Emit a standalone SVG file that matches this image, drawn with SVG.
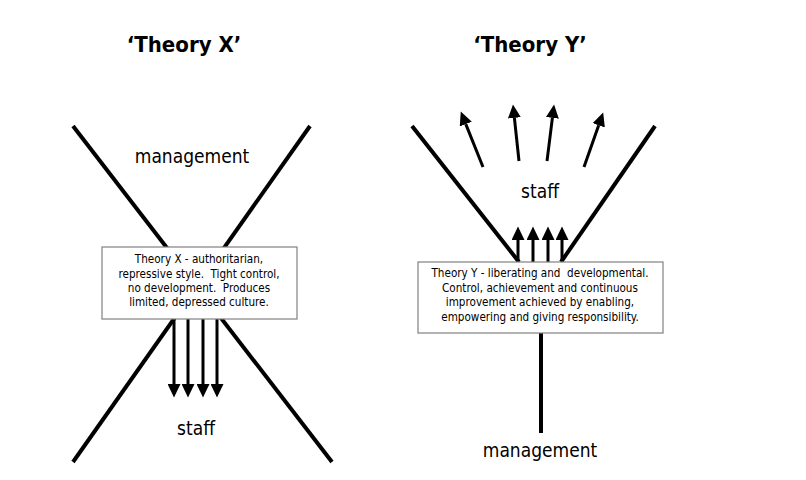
<svg xmlns="http://www.w3.org/2000/svg" width="806" height="480" viewBox="0 0 806 480">
<style>
.title{font-family:"DejaVu Sans Condensed","DejaVu Sans",sans-serif;font-stretch:condensed;font-weight:bold;font-size:22px;text-anchor:middle;fill:#000}
.lbl{font-family:"DejaVu Sans Condensed","DejaVu Sans",sans-serif;font-stretch:condensed;font-size:19px;text-anchor:middle;fill:#000}
.box{fill:#fff;stroke:#808080;stroke-width:1.2}
.btxt{font-family:"DejaVu Sans Condensed","DejaVu Sans",sans-serif;font-stretch:condensed;font-size:11.6px;text-anchor:middle;fill:#000;white-space:pre}
.thick{stroke:#000;stroke-width:4;fill:none}
.arr{stroke:#000;stroke-width:3;fill:none;marker-end:url(#head)}
</style>
<defs>
<marker id="head" markerUnits="userSpaceOnUse" markerWidth="14" markerHeight="13" refX="0" refY="6.5" orient="auto" viewBox="0 0 14 13">
<path d="M0,0 L13.5,6.5 L0,13 Z" fill="#000"/>
</marker>
</defs>
<rect width="806" height="480" fill="#fff"/>
<g id="title-x"><text class="title" x="184" y="52">‘Theory X’</text></g>
<g id="title-y"><text class="title" x="530" y="52">‘Theory Y’</text></g>
<g id="frame-x">
<line class="thick" x1="73" y1="126" x2="332" y2="462"/>
<line class="thick" x1="310" y1="126" x2="73" y2="462"/>
</g>
<g id="frame-y">
<line class="thick" x1="412" y1="126" x2="519" y2="262"/>
<line class="thick" x1="655" y1="126" x2="561" y2="262"/>
<line class="thick" x1="541" y1="333" x2="541" y2="433"/>
</g>
<g id="connectors">
<line class="arr" x1="174" y1="319" x2="174" y2="384"/>
<line class="arr" x1="188" y1="319" x2="188" y2="384"/>
<line class="arr" x1="203" y1="319" x2="203" y2="384"/>
<line class="arr" x1="217" y1="319" x2="217" y2="384"/>
<line class="arr" x1="518" y1="262" x2="518" y2="240"/>
<line class="arr" x1="533" y1="262" x2="533" y2="240"/>
<line class="arr" x1="548" y1="262" x2="548" y2="240"/>
<line class="arr" x1="562" y1="262" x2="562" y2="240"/>
<line class="arr" x1="483" y1="167" x2="465.8" y2="124.1"/>
<line class="arr" x1="519" y1="161" x2="514.4" y2="117.9"/>
<line class="arr" x1="547" y1="161" x2="552.4" y2="117.9"/>
<line class="arr" x1="584" y1="167" x2="598.7" y2="125.3"/>
</g>
<g id="box-x">
<rect class="box" x="102" y="247" width="195" height="72"/>
<text class="btxt" x="199" y="263">Theory X - authoritarian,</text>
<text class="btxt" x="199" y="278">repressive style.  Tight control,</text>
<text class="btxt" x="199" y="292">no development.  Produces</text>
<text class="btxt" x="199" y="306">limited, depressed culture.</text>
</g>
<g id="box-y">
<rect class="box" x="418" y="262" width="245" height="71"/>
<text class="btxt" x="540" y="277">Theory Y - liberating and  developmental.</text>
<text class="btxt" x="540" y="292">Control, achievement and continuous</text>
<text class="btxt" x="540" y="306">improvement achieved by enabling,</text>
<text class="btxt" x="540" y="321">empowering and giving responsibility.</text>
</g>
<g id="label-x-management"><text class="lbl" x="192" y="163">management</text></g>
<g id="label-x-staff"><text class="lbl" x="196" y="435">staff</text></g>
<g id="label-y-staff"><text class="lbl" x="540" y="198">staff</text></g>
<g id="label-y-management"><text class="lbl" x="540" y="457">management</text></g>
</svg>
